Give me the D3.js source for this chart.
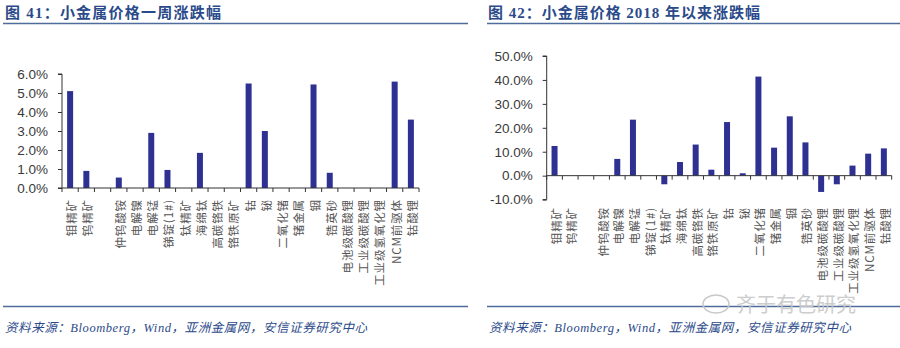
<!DOCTYPE html>
<html><head><meta charset="utf-8">
<script src="https://cdn.jsdelivr.net/npm/d3@7"></script>
<style>
html,body{margin:0;padding:0;background:#fff;}
svg{display:block;}
</style></head>
<body>
<svg id="c" width="900" height="348"></svg>
<script>
const categories = ["钼精矿","钨精矿","","仲钨酸铵","电解镍","电解锰","锑锭(1#)","钛精矿","海绵钛","高碳铬铁","铬铁原矿","钴","铋","二氧化锗","锗金属","铟","锆英砂","电池级碳酸锂","工业级碳酸锂","工业级氢氧化锂","NCM前驱体","钴酸锂"];
const weeklyChange = [5.1,0.9,0,0.55,0,2.9,0.95,0,1.85,0,0,5.5,3.0,0,0,5.45,0.8,0,0,0,5.6,3.6];
const sinceChange = [12.4,0,0,0,7.0,23.4,0,-3.6,5.7,13.0,2.5,22.4,1.0,41.4,11.7,24.8,13.9,-6.8,-3.6,4.2,9.2,11.4];
const leftTicks = [0,1,2,3,4,5,6];
const rightTicks = [-10,0,10,20,30,40,50];
const leftTitle = "图 41：小金属价格一周涨跌幅";
const rightTitle = "图 42：小金属价格 2018 年以来涨跌幅";
const sourceText = "资料来源：Bloomberg，Wind，亚洲金属网，安信证券研究中心";
const watermark = "齐于有色研究";

const svg = d3.select("#c");
svg.append("rect").attr("width",900).attr("height",348).attr("fill","#fff");

const BLUE = "#2b4a8a", LINE = "#4f6d9c", BAR = "#2e3192";
const tickFont = "'Liberation Sans Narrow','Arial Narrow','Liberation Sans',sans-serif";
const cjkSans = "'Noto Sans CJK SC',sans-serif";
const serifMix = "'Liberation Serif','Noto Sans CJK SC',serif";

function header(x0, x1, tx, text, tlen){
  svg.append("text").attr("x",tx).attr("y",18).attr("fill",BLUE)
    .attr("font-family",serifMix).attr("font-size",15).attr("font-weight",700)
    .attr("textLength",tlen).attr("lengthAdjust","spacing").text(text);
  svg.append("line").attr("x1",x0).attr("x2",x1).attr("y1",23.5).attr("y2",23.5).attr("stroke",LINE).attr("stroke-width",1.6);
  svg.append("line").attr("x1",x0).attr("x2",x1).attr("y1",306.5).attr("y2",306.5).attr("stroke",LINE).attr("stroke-width",1.6);
}
header(3, 468, 5, leftTitle, 216);
header(487, 900, 488, rightTitle, 272);

function source(x){
  svg.append("text").attr("x",x).attr("y",332).attr("fill",BLUE).attr("font-style","italic")
    .attr("font-family",serifMix).attr("font-size",12.5)
    .attr("textLength",362).attr("lengthAdjust","spacing").text(sourceText);
}
source(5); source(489);

function chart(values, ticks, xr, yDomain, yr, labelTop){
  const g = svg.append("g");
  const idx = categories.map((d,i)=>i);
  const x = d3.scaleBand().domain(idx).range(xr).paddingInner(0).paddingOuter(0);
  const y = d3.scaleLinear().domain(yDomain).range(yr);
  const bw = 6;
  g.selectAll("rect.bar").data(values).join("rect").attr("class","bar")
    .attr("x",(d,i)=>x(i)+x.bandwidth()/2-bw/2)
    .attr("y",d=>y(Math.max(0,d)))
    .attr("width",bw)
    .attr("height",d=>Math.abs(y(d)-y(0)))
    .attr("fill",BAR);
  const ya = d3.axisLeft(y).tickValues(ticks).tickSize(4).tickPadding(10).tickFormat(d=>d.toFixed(1)+"%");
  const yg = g.append("g").attr("transform",`translate(${xr[0]},0)`).call(ya);
  yg.select(".domain").attr("stroke","#333").attr("d",`M-4,${yr[0]}H0V${yr[1]}H-4`);
  yg.selectAll(".tick line").attr("stroke","#333");
  yg.selectAll(".tick text").attr("fill","#3a3a3a").attr("font-family",tickFont).attr("font-size",13.5);
  const y0 = y(0);
  const xg = g.append("g");
  xg.append("line").attr("x1",xr[0]).attr("x2",xr[1]).attr("y1",y0).attr("y2",y0).attr("stroke","#333");
  const bounds = idx.map(i=>x(i)+x.bandwidth()).concat([xr[0]]);
  xg.selectAll("line.t").data(bounds).join("line").attr("class","t")
    .attr("x1",d=>d).attr("x2",d=>d).attr("y1",y0).attr("y2",y0+4).attr("stroke","#333");
  g.selectAll("text.lab").data(categories).join("text").attr("class","lab")
    .attr("transform",(d,i)=>`translate(${x(i)+x.bandwidth()/2+1},${labelTop}) rotate(-90)`)
    .attr("text-anchor","end").attr("dominant-baseline","central")
    .attr("font-family",cjkSans).attr("font-size",11.5).attr("letter-spacing",0.9)
    .attr("fill","#555").text(d=>d);
}
chart(weeklyChange, leftTicks, [62,419], [0,6], [188,74], 199);
chart(sinceChange, rightTicks, [546.7,891.7], [-10,50], [199.6,56], 207);

svg.append("text").attr("x",736).attr("y",312).attr("fill","#c8c8c8")
  .attr("font-family",cjkSans).attr("font-size",20).attr("opacity",0.9).text(watermark);
svg.append("ellipse").attr("cx",716).attr("cy",304).attr("rx",13).attr("ry",9)
  .attr("fill","none").attr("stroke","#c8c8c8").attr("stroke-width",1.5);
</script>
</body></html>
